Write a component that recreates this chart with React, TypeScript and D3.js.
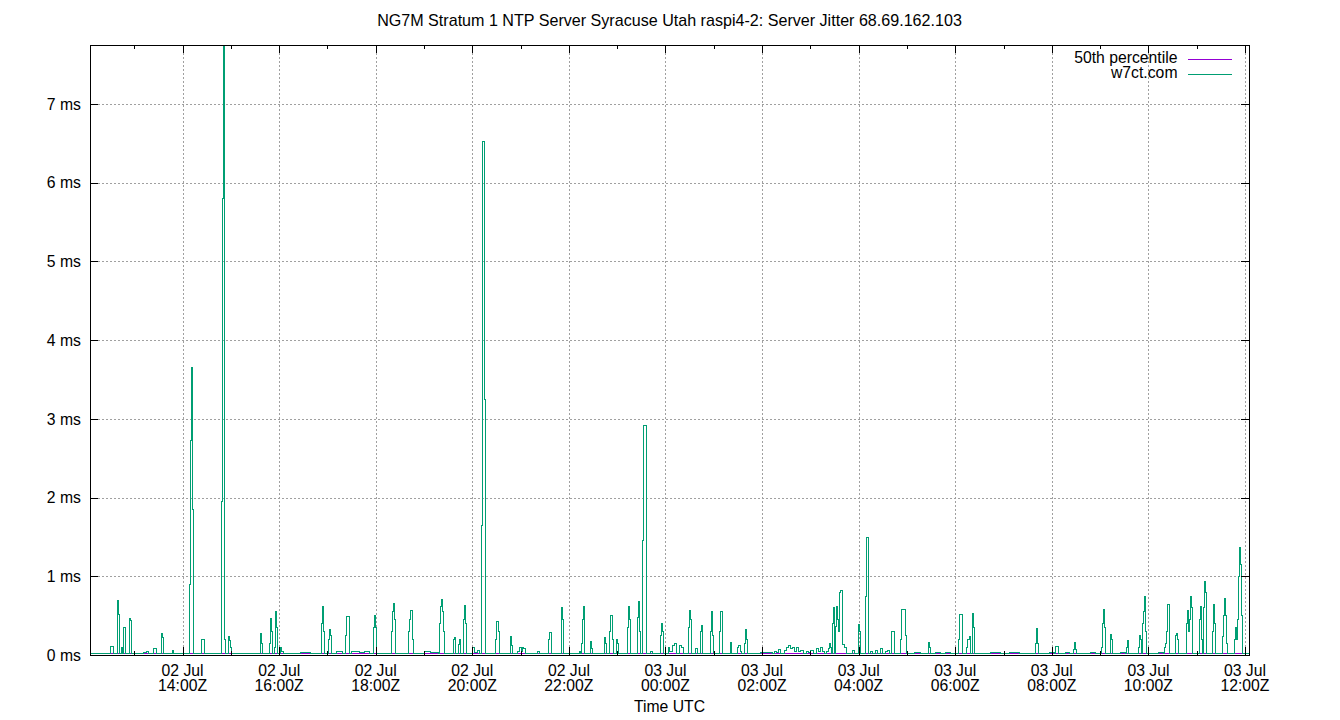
import React from "react";
import * as d3 from "d3";

const TITLE = "NG7M Stratum 1 NTP Server Syracuse Utah raspi4-2: Server Jitter 68.69.162.103";
const X_TITLE = "Time UTC";
const SERIES_NAMES = ["50th percentile", "w7ct.com"];
const SERIES_COLORS = ["#9400d3", "#009e73"];

// time window: 02 Jul 12:05Z .. 03 Jul 12:05Z, samples every 75 s
const START_MS = Date.UTC(2024, 6, 2, 12, 5, 0);
const END_MS = Date.UTC(2024, 6, 3, 12, 5, 0);
const SAMPLE_STEP_S = 75;

// 50th percentile of jitter (ms)
const P50_MS = 0.015;

// y axis ticks (ms)
const Y_TICKS = [0, 1, 2, 3, 4, 5, 6, 7];
const Y_MAX = 7.75;

// x axis major tick labels (every 2 hours)
const X_TICK_TIMES = [
  "2024-07-02T14:00:00Z", "2024-07-02T16:00:00Z", "2024-07-02T18:00:00Z",
  "2024-07-02T20:00:00Z", "2024-07-02T22:00:00Z", "2024-07-03T00:00:00Z",
  "2024-07-03T02:00:00Z", "2024-07-03T04:00:00Z", "2024-07-03T06:00:00Z",
  "2024-07-03T08:00:00Z", "2024-07-03T10:00:00Z", "2024-07-03T12:00:00Z",
];
const X_TICK_DATES = ["02 Jul", "02 Jul", "02 Jul", "02 Jul", "02 Jul", "03 Jul", "03 Jul", "03 Jul", "03 Jul", "03 Jul", "03 Jul", "03 Jul"];
const X_TICK_HOURS = ["14:00Z", "16:00Z", "18:00Z", "20:00Z", "22:00Z", "00:00Z", "02:00Z", "04:00Z", "06:00Z", "08:00Z", "10:00Z", "12:00Z"];
const X_MINOR_TIMES = [
  "2024-07-02T13:00:00Z", "2024-07-02T15:00:00Z", "2024-07-02T17:00:00Z",
  "2024-07-02T19:00:00Z", "2024-07-02T21:00:00Z", "2024-07-02T23:00:00Z",
  "2024-07-03T01:00:00Z", "2024-07-03T03:00:00Z", "2024-07-03T05:00:00Z",
  "2024-07-03T07:00:00Z", "2024-07-03T09:00:00Z", "2024-07-03T11:00:00Z",
];

// w7ct.com jitter samples: [sample index, ms]
const W7CT: [number, number][] = [
  [0, 0.02], [18, 0.02], [20, 0.11], [22, 0.11], [23, 0.02],
  [26, 0.02], [27, 0.69], [28, 0.51], [29, 0.02], [30, 0.02], [31, 0.1], [32, 0.02],
  [33, 0.35], [34, 0.35], [35, 0.02], [38, 0.02], [39, 0.46], [40, 0.44], [41, 0.02],
  [44, 0.02], [53, 0.03], [56, 0.05], [58, 0.02], [62, 0.02], [63, 0.08], [65, 0.08], [66, 0.02],
  [70, 0.02], [71, 0.27], [72, 0.22], [73, 0.02], [81, 0.02], [82, 0.06], [83, 0.02],
  [98, 0.02], [99, 0.9], [100, 2.73], [101, 3.65], [102, 1.85], [103, 0.02],
  [110, 0.02], [111, 0.2], [113, 0.2], [114, 0.02],
  [130, 0.02], [131, 1.95], [132, 5.8], [133, 7.75], [134, 0.2], [135, 0.02],
  [137, 0.02], [138, 0.23], [139, 0.18], [140, 0.1], [141, 0.02],
  [168, 0.02], [169, 0.27], [170, 0.15], [171, 0.02],
  [177, 0.02], [178, 0.15], [179, 0.47], [180, 0.3], [181, 0.02], [183, 0.1], [184, 0.55], [185, 0.35], [186, 0.02],
  [188, 0.02], [189, 0.1], [190, 0.05], [192, 0.02], [199, 0.02], [209, 0.03], [219, 0.02],
  [229, 0.02], [230, 0.4], [231, 0.61], [232, 0.3], [233, 0.02],
  [236, 0.02], [237, 0.2], [238, 0.33], [239, 0.25], [240, 0.02],
  [242, 0.02], [245, 0.05], [248, 0.04], [251, 0.02],
  [253, 0.02], [254, 0.25], [255, 0.49], [257, 0.49], [258, 0.02],
  [260, 0.04], [264, 0.05], [268, 0.03], [273, 0.04], [278, 0.02],
  [281, 0.02], [282, 0.35], [283, 0.5], [284, 0.35], [285, 0.02], [288, 0.02],
  [299, 0.02], [300, 0.3], [301, 0.55], [302, 0.65], [303, 0.45], [304, 0.02], [306, 0.02],
  [316, 0.02], [317, 0.3], [318, 0.45], [319, 0.56], [320, 0.56], [321, 0.2], [322, 0.02],
  [328, 0.02], [332, 0.04], [338, 0.03],
  [346, 0.02], [347, 0.4], [348, 0.62], [349, 0.7], [350, 0.55], [351, 0.3], [352, 0.02],
  [360, 0.02], [361, 0.2], [362, 0.22], [363, 0.02],
  [365, 0.02], [366, 0.13], [367, 0.2], [368, 0.02],
  [370, 0.02], [371, 0.45], [372, 0.63], [373, 0.4], [374, 0.02],
  [378, 0.02], [380, 0.1], [382, 0.03], [385, 0.06], [387, 0.02],
  [388, 0.02], [389, 1.65], [390, 6.52], [391, 6.52], [392, 3.25], [393, 0.02],
  [402, 0.02], [403, 0.2], [404, 0.43], [405, 0.43], [406, 0.3], [407, 0.02],
  [417, 0.02], [418, 0.23], [419, 0.12], [420, 0.02],
  [423, 0.02], [425, 0.05], [427, 0.1], [429, 0.05], [430, 0.1], [431, 0.08], [433, 0.02],
  [443, 0.02], [445, 0.05], [447, 0.02],
  [455, 0.02], [456, 0.2], [457, 0.29], [458, 0.29], [459, 0.02],
  [468, 0.02], [469, 0.6], [470, 0.45], [471, 0.02],
  [485, 0.02], [487, 0.05], [488, 0.02], [489, 0.15], [490, 0.45], [491, 0.62], [492, 0.02],
  [496, 0.02], [497, 0.17], [498, 0.08], [499, 0.02],
  [510, 0.02], [511, 0.22], [512, 0.15], [513, 0.02],
  [515, 0.02], [516, 0.3], [517, 0.5], [518, 0.5], [519, 0.2], [520, 0.02],
  [522, 0.02], [523, 0.2], [524, 0.15], [525, 0.02],
  [533, 0.02], [534, 0.35], [535, 0.62], [536, 0.45], [537, 0.02],
  [543, 0.02], [544, 0.48], [545, 0.68], [546, 0.3], [547, 0.02],
  [548, 0.02], [549, 1.46], [550, 2.91], [552, 2.91], [553, 0.02],
  [555, 0.02], [557, 0.05], [559, 0.02],
  [566, 0.02], [567, 0.25], [568, 0.4], [569, 0.3], [570, 0.02],
  [573, 0.02], [575, 0.1], [576, 0.05], [579, 0.12], [581, 0.15], [583, 0.02],
  [586, 0.12], [588, 0.09], [590, 0.02],
  [594, 0.02], [595, 0.35], [596, 0.57], [597, 0.45], [598, 0.02],
  [600, 0.02], [602, 0.08], [604, 0.02],
  [606, 0.02], [607, 0.3], [608, 0.37], [609, 0.02],
  [616, 0.02], [617, 0.3], [618, 0.55], [619, 0.25], [620, 0.02],
  [625, 0.02], [626, 0.3], [627, 0.55], [628, 0.55], [629, 0.02],
  [636, 0.02], [637, 0.16], [638, 0.02],
  [642, 0.02], [644, 0.1], [645, 0.12], [647, 0.05], [648, 0.02],
  [650, 0.02], [651, 0.15], [652, 0.33], [653, 0.2], [654, 0.02],
  [662, 0.02], [666, 0.03],
  [678, 0.02], [680, 0.05], [682, 0.03], [684, 0.07], [686, 0.02], [690, 0.06], [692, 0.1],
  [694, 0.12], [696, 0.08], [698, 0.1], [700, 0.05], [702, 0.09], [704, 0.04], [706, 0.06],
  [709, 0.02], [712, 0.05], [714, 0.03], [716, 0.06], [719, 0.02], [722, 0.08], [724, 0.04],
  [726, 0.1], [728, 0.05],
  [730, 0.02], [732, 0.05], [734, 0.08], [735, 0.15], [736, 0.1], [737, 0.02],
  [738, 0.4], [739, 0.6], [740, 0.02], [741, 0.36], [742, 0.62], [743, 0.45], [744, 0.3],
  [745, 0.8], [746, 0.82], [747, 0.82], [748, 0.13], [750, 0.1], [752, 0.02],
  [755, 0.02], [758, 0.06], [760, 0.02],
  [763, 0.02], [764, 0.39], [765, 0.3], [766, 0.02],
  [770, 0.02], [771, 0.74], [772, 1.49], [773, 1.49], [774, 0.02],
  [776, 0.05], [778, 0.02], [781, 0.06], [783, 0.02], [786, 0.08], [788, 0.02], [791, 0.05], [793, 0.06], [795, 0.02],
  [797, 0.3], [799, 0.3], [800, 0.02],
  [805, 0.02], [806, 0.2], [807, 0.58], [810, 0.58], [811, 0.25], [812, 0.02],
  [817, 0.02], [820, 0.03], [825, 0.02],
  [832, 0.02], [833, 0.16], [834, 0.1], [835, 0.02],
  [840, 0.03], [845, 0.02], [850, 0.03], [855, 0.02],
  [862, 0.02], [863, 0.2], [864, 0.52], [866, 0.52], [867, 0.02],
  [870, 0.02], [871, 0.1], [872, 0.2], [874, 0.23], [875, 0.02],
  [876, 0.02], [877, 0.53], [878, 0.35], [879, 0.02],
  [885, 0.02], [895, 0.03], [905, 0.02], [914, 0.03], [924, 0.02],
  [939, 0.02], [940, 0.15], [941, 0.34], [942, 0.15], [943, 0.02],
  [949, 0.02], [954, 0.03],
  [959, 0.02], [960, 0.11], [962, 0.11], [963, 0.02],
  [966, 0.02], [970, 0.03], [974, 0.02],
  [977, 0.02], [978, 0.07], [979, 0.16], [980, 0.07], [981, 0.02],
  [989, 0.02], [994, 0.03], [999, 0.02],
  [1004, 0.02], [1005, 0.1], [1006, 0.4], [1007, 0.58], [1008, 0.35], [1009, 0.02],
  [1013, 0.02], [1014, 0.26], [1015, 0.2], [1016, 0.02],
  [1022, 0.02], [1024, 0.03],
  [1029, 0.02], [1030, 0.1], [1031, 0.19], [1032, 0.02],
  [1041, 0.02], [1042, 0.1], [1043, 0.25], [1044, 0.2], [1045, 0.02], [1046, 0.4], [1047, 0.55], [1048, 0.74], [1049, 0.3], [1050, 0.02],
  [1059, 0.02], [1062, 0.03],
  [1067, 0.02], [1068, 0.1], [1069, 0.15], [1070, 0.3], [1071, 0.64], [1072, 0.64], [1073, 0.02],
  [1078, 0.02], [1079, 0.25], [1080, 0.27], [1081, 0.2], [1082, 0.02],
  [1089, 0.02], [1090, 0.4], [1091, 0.56], [1092, 0.3], [1093, 0.45], [1094, 0.74], [1095, 0.6], [1096, 0.02],
  [1102, 0.02], [1103, 0.45], [1104, 0.62], [1105, 0.2], [1106, 0.02], [1107, 0.6], [1108, 0.93], [1109, 0.8], [1110, 0.02],
  [1115, 0.02], [1116, 0.3], [1117, 0.64], [1118, 0.4], [1119, 0.02],
  [1125, 0.02], [1126, 0.23], [1127, 0.5], [1128, 0.72], [1129, 0.5], [1130, 0.15], [1131, 0.02],
  [1137, 0.02], [1138, 0.2], [1139, 0.35], [1140, 0.2], [1141, 0.45], [1142, 1.0], [1143, 1.36], [1144, 1.15], [1145, 0.5], [1146, 0.02],
  [1152, 0.02],
];

const W = 1340;
const H = 720;
const L = 90, R = 1249, T = 45, B = 655;
const FONT = "'Liberation Sans', Arial, sans-serif";
const FS = 15.75;

export default function App() {
  const x = d3.scaleUtc().domain([new Date(START_MS), new Date(END_MS)]).range([L, R]);
  const y = d3.scaleLinear().domain([0, Y_MAX]).range([B, T]);
  const t = (i: number) => new Date(START_MS + i * SAMPLE_STEP_S * 1000);

  const line = d3
    .line<[number, number]>()
    .x((d) => x(t(d[0])))
    .y((d) => y(d[1]))
    .curve(d3.curveStepAfter);

  const p50Line = d3
    .line<number>()
    .x((d) => x(new Date(d)))
    .y(() => y(P50_MS));

  const px = (v: number) => Math.round(v) + 0.5;

  const gridColor = "#a0a0a0";

  return (
    <svg
      width={W}
      height={H}
      style={{ position: "absolute", left: 0, top: 0, background: "#fff" }}
      fontFamily={FONT}
      fontSize={FS}
    >
      <rect x={0} y={0} width={W} height={H} fill="#fff" />
      <defs>
        <clipPath id="plotclip">
          <rect x={L} y={T} width={R - L} height={B - T} />
        </clipPath>
      </defs>

      {/* grid */}
      <g stroke={gridColor} strokeWidth={1} strokeDasharray="2,2" shapeRendering="crispEdges">
        {Y_TICKS.filter((v) => v > 0).map((v) => (
          <line key={"gy" + v} x1={L} x2={R} y1={px(y(v))} y2={px(y(v))} />
        ))}
        {X_TICK_TIMES.map((s) => (
          <line key={"gx" + s} x1={px(x(new Date(s)))} x2={px(x(new Date(s)))} y1={T} y2={B} />
        ))}
      </g>

      {/* series */}
      <g clipPath="url(#plotclip)" fill="none" shapeRendering="crispEdges">
        <path d={p50Line([START_MS, END_MS]) || ""} stroke={SERIES_COLORS[0]} strokeWidth={1} />
        <path d={line(W7CT) || ""} stroke={SERIES_COLORS[1]} strokeWidth={1} />
      </g>

      {/* ticks */}
      <g stroke="#000" strokeWidth={1} shapeRendering="crispEdges">
        {Y_TICKS.map((v) => (
          <g key={"ty" + v}>
            <line x1={L} x2={L + 8} y1={px(y(v))} y2={px(y(v))} />
            <line x1={R - 8} x2={R} y1={px(y(v))} y2={px(y(v))} />
          </g>
        ))}
        {X_TICK_TIMES.map((s) => {
          const xx = px(x(new Date(s)));
          return (
            <g key={"tx" + s}>
              <line x1={xx} x2={xx} y1={B} y2={B - 8} />
              <line x1={xx} x2={xx} y1={T} y2={T + 8} />
            </g>
          );
        })}
        {X_MINOR_TIMES.map((s) => {
          const xx = px(x(new Date(s)));
          return (
            <g key={"mx" + s}>
              <line x1={xx} x2={xx} y1={B} y2={B - 4} />
              <line x1={xx} x2={xx} y1={T} y2={T + 4} />
            </g>
          );
        })}
      </g>

      {/* frame */}
      <rect x={L + 0.5} y={T + 0.5} width={R - L} height={B - T} fill="none" stroke="#000" strokeWidth={1} shapeRendering="crispEdges" />

      {/* y labels */}
      {Y_TICKS.map((v) => (
        <text key={"ly" + v} x={81} y={y(v) + 5.7} textAnchor="end" fill="#000">
          {v} ms
        </text>
      ))}

      {/* x labels */}
      {X_TICK_TIMES.map((s, i) => {
        const xx = x(new Date(s));
        return (
          <g key={"lx" + s} fill="#000" textAnchor="middle">
            <text x={xx} y={675.5}>{X_TICK_DATES[i]}</text>
            <text x={xx} y={690.7}>{X_TICK_HOURS[i]}</text>
          </g>
        );
      })}

      <text x={(L + R) / 2} y={711.5} textAnchor="middle" fill="#000">{X_TITLE}</text>
      <text x={(L + R) / 2} y={25.7} textAnchor="middle" fill="#000" fontSize={16.1}>{TITLE}</text>

      {/* legend */}
      {SERIES_NAMES.map((n, i) => (
        <g key={"lg" + n}>
          <text x={1177.5} y={63.3 + i * 15} textAnchor="end" fill="#000">{n}</text>
          <line x1={1188} x2={1232} y1={59.5 + i * 15} y2={59.5 + i * 15} stroke={SERIES_COLORS[i]} strokeWidth={1} shapeRendering="crispEdges" />
        </g>
      ))}
    </svg>
  );
}
